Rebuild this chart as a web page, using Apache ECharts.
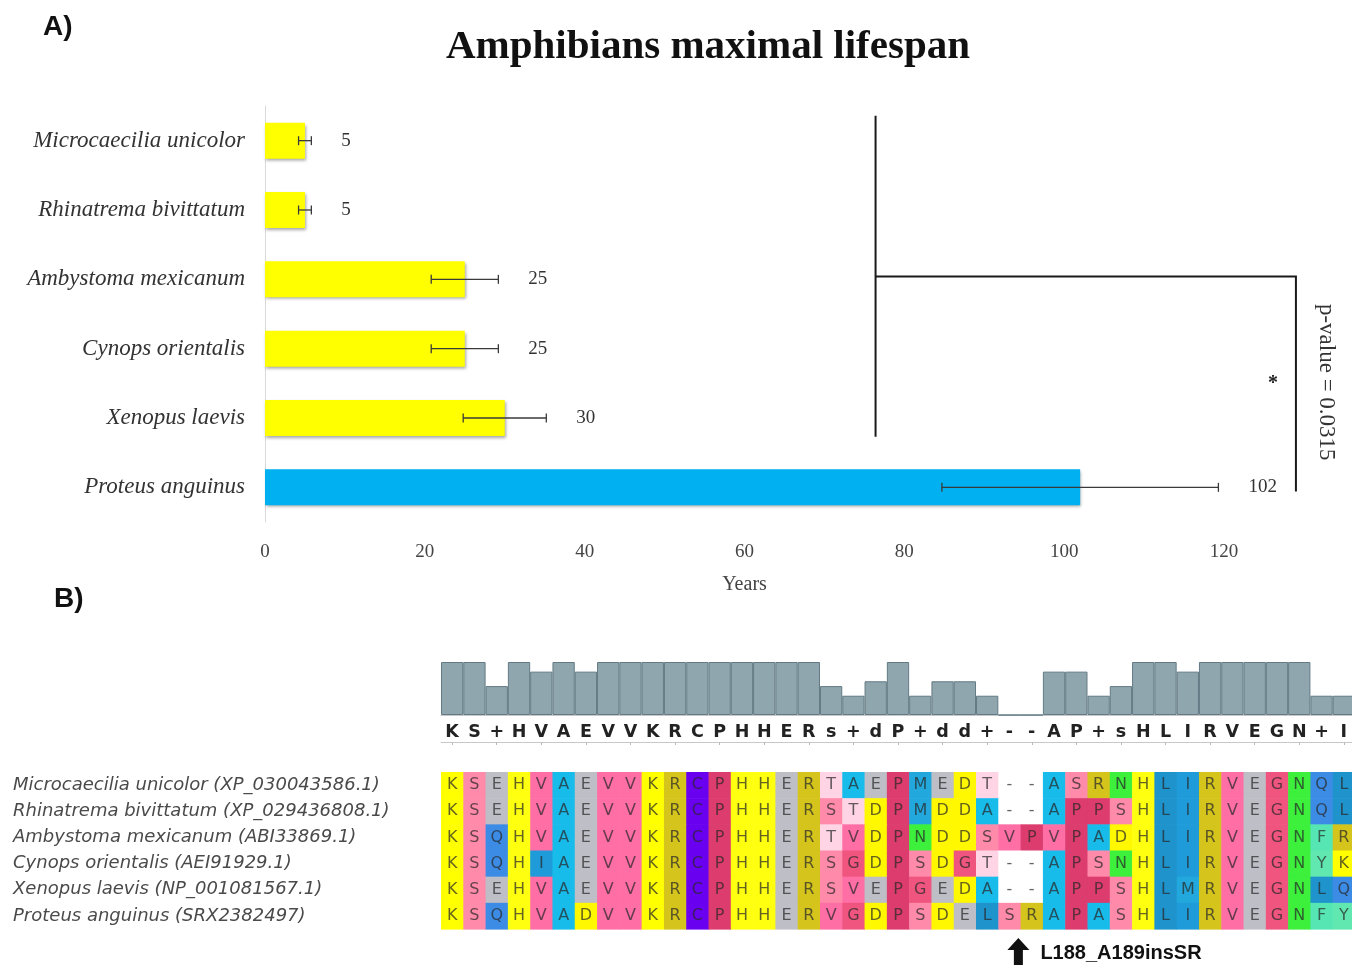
<!DOCTYPE html>
<html>
<head>
<meta charset="utf-8">
<script src="https://cdn.jsdelivr.net/npm/echarts/dist/echarts.min.js"></script>
<style>
  html, body { margin: 0; padding: 0; background: #ffffff; }
  #main { width: 1352px; height: 965px; }
</style>
</head>
<body>
<div id="main"></div>
<script>
// ---- Panel A: maximal lifespan (years) ----
const species = [
  'Microcaecilia unicolor',
  'Rhinatrema bivittatum',
  'Ambystoma mexicanum',
  'Cynops orientalis',
  'Xenopus laevis',
  'Proteus anguinus'
];
const lifespan = [5, 5, 25, 25, 30, 102];
const lifespanErr = [0.8, 0.8, 4.2, 4.2, 5.2, 17.3];
const yearTicks = { min: 0, max: 120, interval: 20 };
const pValueText = 'p-value = 0.0315';
// significance bracket: x extent in years, rows of the two groups
const bracket = { leftYears: 76.4, rightYears: 129, groupTop: 0, groupBottom: 4, single: 5 };

// ---- Panel B: protein alignment ----
const seqLabels = [
  'Microcaecilia unicolor (XP_030043586.1)',
  'Rhinatrema bivittatum (XP_029436808.1)',
  'Ambystoma mexicanum (ABI33869.1)',
  'Cynops orientalis (AEI91929.1)',
  'Xenopus laevis (NP_001081567.1)',
  'Proteus anguinus (SRX2382497)'
];
const sequences = [
  'KSEHVAEVVKRCPHHERTAEPMEDT--ASRNHLIRVEGNQL',
  'KSEHVAEVVKRCPHHERSTDPMDDA--APPSHLIRVEGNQL',
  'KSQHVAEVVKRCPHHERTVDPNDDSVPVPADHLIRVEGNFR',
  'KSQHIAEVVKRCPHHERSGDPSDGT--APSNHLIRVEGNYK',
  'KSEHVAEVVKRCPHHERSVEPGEDA--APPSHLMRVEGNLQ',
  'KSQHVADVVKRCPHHERVGDPSDELSRAPASHLIRVEGNFY'
];
const consensus = 'KS+HVAEVVKRCPHHERs+dP+dd+--AP+sHLIRVEGN+I'.split('');
const conservation = [11, 11, 6, 11, 9, 11, 9, 11, 11, 11, 11, 11, 11,
  11, 11, 11, 11, 6, 4, 7, 11, 4, 7, 7, 4, 0, 0,
  9, 9, 4, 6, 11, 11, 9, 11, 11, 11, 11, 11, 4, 4];
const mutation = { label: 'L188_A189insSR', column: 25 };

// residue colour scheme
const residueColors = {
  K: '#FFFF00', H: '#FFFF10', D: '#FFF800', R: '#D4C41C',
  E: '#BEBEC6', S: '#FF8AAA', T: '#FFD4E4', V: '#FF6EA5',
  A: '#18BCEB', Q: '#3C8CE6', I: '#1E9BD8', L: '#1E93CC',
  M: '#22A8DC', C: '#6A00F0', P: '#DC3C6E', N: '#3CF03C',
  G: '#F0557F', F: '#55E6B4', Y: '#60E8B0', '-': '#FFFFFF'
};

const alignmentCells = [];
sequences.forEach((seq, r) => {
  for (let c = 0; c < seq.length; c++) alignmentCells.push([c, r]);
});

const serif = 'Liberation Serif, Times New Roman, serif';
const sans = 'DejaVu Sans, Verdana, sans-serif';
const arial = 'Liberation Sans, Arial, sans-serif';

const chart = echarts.init(document.getElementById('main'), null, { renderer: 'canvas' });

const option = {
  backgroundColor: '#ffffff',
  animation: false,
  grid: [
    { left: 265, top: 106, width: 959, height: 416, outerBoundsMode: 'none', containLabel: false },
    { left: 441, top: 662, width: 914, height: 53, outerBoundsMode: 'none', containLabel: false },
    { left: 441, top: 772, width: 914, height: 157, outerBoundsMode: 'none', containLabel: false }
  ],
  xAxis: [
    {
      gridIndex: 0, type: 'value',
      min: yearTicks.min, max: yearTicks.max, interval: yearTicks.interval,
      axisLine: { show: false }, axisTick: { show: false }, splitLine: { show: false },
      axisLabel: { fontFamily: serif, fontSize: 19, color: '#444', margin: 21 },
      name: 'Years', nameLocation: 'middle', nameGap: 53,
      nameTextStyle: { fontFamily: serif, fontSize: 20, color: '#444' }
    },
    {
      gridIndex: 1, type: 'category', data: consensus,
      axisLine: { show: true, lineStyle: { color: '#c8c8c8', width: 1 } },
      axisTick: { show: false }, splitLine: { show: false },
      axisLabel: { interval: 0, fontFamily: sans, fontWeight: 'bold', fontSize: 17.5, color: '#222', margin: 8 }
    },
    {
      gridIndex: 2, type: 'category', data: consensus.map((_, i) => i + 1),
      position: 'top', offset: 30,
      axisLine: { show: true, lineStyle: { color: '#c8c8c8', width: 1 } },
      axisTick: { show: true, inside: true, length: 3, interval: 1, alignWithLabel: true, lineStyle: { color: '#bbb' } },
      axisLabel: { show: false }, splitLine: { show: false }
    }
  ],
  yAxis: [
    {
      gridIndex: 0, type: 'category', data: species, inverse: true,
      axisLine: { show: true, lineStyle: { color: '#d9d9d9', width: 1 } },
      axisTick: { show: false }, splitLine: { show: false },
      axisLabel: { fontFamily: serif, fontStyle: 'italic', fontSize: 23, color: '#333', margin: 20 }
    },
    { gridIndex: 1, type: 'value', min: 0, max: 11, show: false },
    {
      gridIndex: 2, type: 'category', data: seqLabels, inverse: true,
      axisLine: { show: false }, axisTick: { show: false }, splitLine: { show: false },
      axisLabel: { align: 'left', margin: 428, fontFamily: sans, fontStyle: 'italic', fontSize: 18, color: '#4a4a4a' }
    }
  ],
  series: [
    {
      // lifespan bars
      type: 'bar', xAxisIndex: 0, yAxisIndex: 0, barWidth: 36, z: 2,
      data: lifespan.map((v, i) => ({
        value: v,
        itemStyle: { color: species[i] === 'Proteus anguinus' ? '#00B0F0' : '#FFFF00' }
      })),
      itemStyle: { shadowBlur: 3, shadowColor: 'rgba(0,0,0,0.35)', shadowOffsetX: 1, shadowOffsetY: 2 }
    },
    {
      // error bars with value labels
      type: 'custom', xAxisIndex: 0, yAxisIndex: 0, clip: false, z: 5,
      data: lifespan.map((v, i) => [v - lifespanErr[i], v + lifespanErr[i], i, v]),
      encode: { x: [0, 1], y: 2 },
      renderItem(params, api) {
        const lo = api.coord([api.value(0), api.value(2)]);
        const hi = api.coord([api.value(1), api.value(2)]);
        const y = lo[1];
        const cap = 4.5;
        const stroke = { stroke: '#3a3a3a', lineWidth: 1.3 };
        return {
          type: 'group',
          children: [
            { type: 'line', shape: { x1: lo[0], y1: y, x2: hi[0], y2: y }, style: stroke },
            { type: 'line', shape: { x1: lo[0], y1: y - cap, x2: lo[0], y2: y + cap }, style: stroke },
            { type: 'line', shape: { x1: hi[0], y1: y - cap, x2: hi[0], y2: y + cap }, style: stroke },
            {
              type: 'text', x: hi[0] + 30, y: y,
              style: { text: String(api.value(3)), fontFamily: serif, fontSize: 19, fill: '#333', align: 'left', verticalAlign: 'middle' }
            }
          ]
        };
      }
    },
    {
      // significance bracket
      type: 'custom', xAxisIndex: 0, yAxisIndex: 0, clip: false, z: 5,
      data: [[bracket.leftYears, bracket.rightYears]],
      encode: { x: [0, 1] },
      renderItem(params, api) {
        const band = api.size([0, 1])[1];
        const rowY = (row) => api.coord([0, row])[1];
        const xl = api.coord([api.value(0), 0])[0];
        const xr = api.coord([api.value(1), 0])[0];
        const yTop = rowY(bracket.groupTop) - 0.36 * band;
        const yBot = rowY(bracket.groupBottom) + 0.27 * band;
        const yMid = rowY(2) - 0.04 * band;
        const ySingle = rowY(bracket.single) + 0.06 * band;
        const stroke = { stroke: '#1a1a1a', lineWidth: 2 };
        const yStar = rowY(3) + 0.47 * band;
        return {
          type: 'group',
          children: [
            { type: 'line', shape: { x1: xl, y1: yTop, x2: xl, y2: yBot }, style: stroke },
            { type: 'polyline', shape: { points: [[xl, yMid], [xr, yMid], [xr, ySingle]] }, style: Object.assign({ fill: null }, stroke) },
            {
              type: 'text', x: xr - 23, y: yStar + 3,
              style: { text: '*', fontFamily: serif, fontSize: 20, fontWeight: 'bold', fill: '#222', align: 'center', verticalAlign: 'middle' }
            },
            {
              type: 'text', x: xr + 30, y: yStar + 1, rotation: -Math.PI / 2,
              style: { text: pValueText, fontFamily: serif, fontSize: 23, fill: '#333', align: 'center', verticalAlign: 'middle' }
            }
          ]
        };
      }
    },
    {
      // conservation histogram
      type: 'bar', xAxisIndex: 1, yAxisIndex: 1, barWidth: '100%',
      data: conservation,
      itemStyle: { color: '#90a6ae', borderColor: '#627a84', borderWidth: 1 }
    },
    {
      // alignment cells
      type: 'custom', xAxisIndex: 2, yAxisIndex: 2, clip: false,
      data: alignmentCells,
      encode: { x: 0, y: 1 },
      renderItem(params, api) {
        const c = api.value(0), r = api.value(1);
        const res = sequences[r][c];
        const center = api.coord([c, r]);
        const size = api.size([1, 1]);
        return {
          type: 'group',
          children: [
            {
              type: 'rect',
              shape: { x: center[0] - size[0] / 2, y: center[1] - size[1] / 2, width: size[0] + 0.6, height: size[1] + 0.6 },
              style: { fill: residueColors[res] || '#ffffff' }
            },
            {
              type: 'text', x: center[0], y: center[1],
              style: { text: res, fontFamily: sans, fontSize: 16, fill: 'rgba(40,40,40,0.72)', align: 'center', verticalAlign: 'middle' }
            }
          ]
        };
      }
    },
    {
      // insertion marker under the alignment
      type: 'custom', xAxisIndex: 2, yAxisIndex: 2, clip: false,
      data: [[mutation.column, sequences.length - 1]],
      encode: { x: 0, y: 1 },
      renderItem(params, api) {
        const p = api.coord([api.value(0), api.value(1)]);
        const size = api.size([1, 1]);
        const x = p[0] + 0.4 * size[0];
        const top = p[1] + size[1] / 2 + 9;
        const bottom = top + 27;
        const head = 12;
        return {
          type: 'group',
          children: [
            {
              type: 'polygon',
              shape: { points: [[x, top], [x + 11, top + head], [x + 4.5, top + head], [x + 4.5, bottom], [x - 4.5, bottom], [x - 4.5, top + head], [x - 11, top + head]] },
              style: { fill: '#111' }
            },
            {
              type: 'text', x: x + 22, y: top + 15,
              style: { text: mutation.label, fontFamily: arial, fontWeight: 'bold', fontSize: 20, fill: '#111', align: 'left', verticalAlign: 'middle' }
            }
          ]
        };
      }
    }
  ],
  graphic: [
    {
      type: 'text', left: 43, top: 13,
      style: { text: 'A)', fontFamily: arial, fontWeight: 'bold', fontSize: 28, fill: '#111' }
    },
    {
      type: 'text', left: 54, top: 585,
      style: { text: 'B)', fontFamily: arial, fontWeight: 'bold', fontSize: 28, fill: '#111' }
    },
    {
      type: 'text', x: 708, y: 47,
      style: { text: 'Amphibians maximal lifespan', fontFamily: serif, fontWeight: 'bold', fontSize: 41, fill: '#111', align: 'center', verticalAlign: 'middle' }
    }
  ]
};

chart.setOption(option);
</script>
</body>
</html>
